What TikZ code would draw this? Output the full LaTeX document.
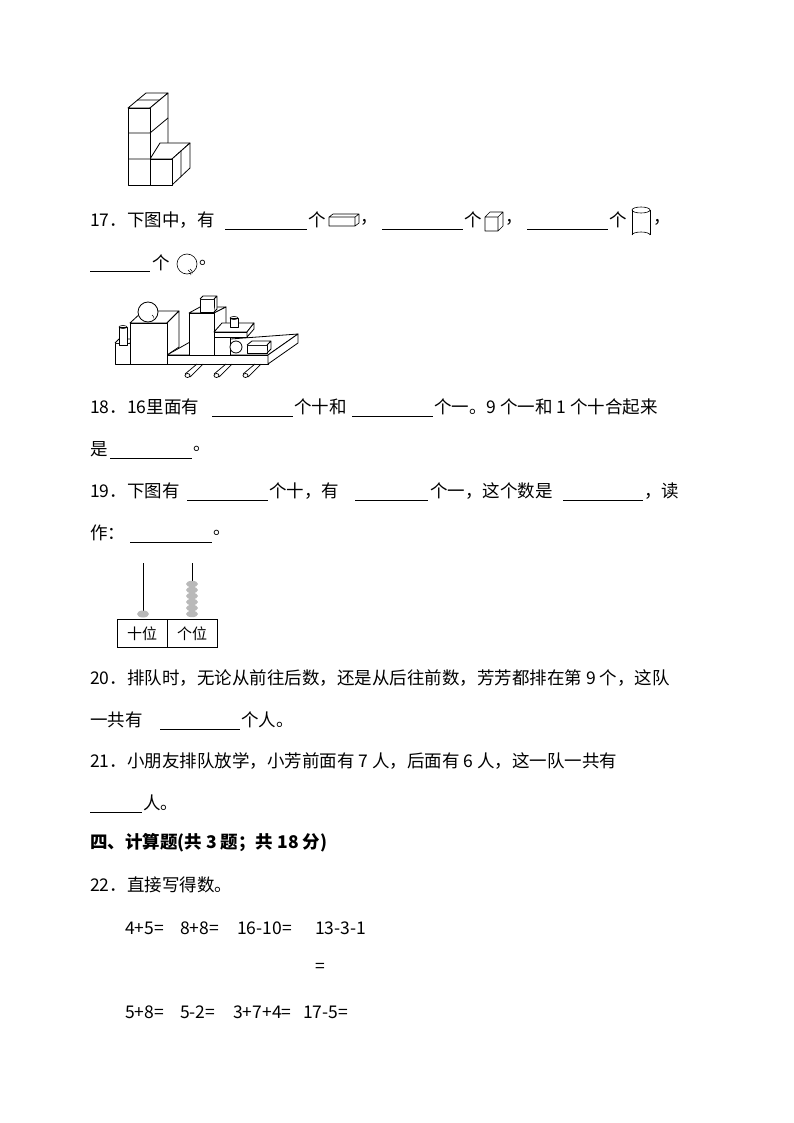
\documentclass[tikz,border=0pt]{standalone}
\usepackage{fontspec}
\setmainfont{Noto Sans CJK SC}
\begin{document}
\begin{tikzpicture}[x=1pt,y=-1pt,
  t/.style={anchor=west,inner sep=0pt,font=\fontsize{17.5}{17.5}\selectfont},
  bl/.style={line width=0.6pt},
  fig/.style={line width=0.8pt,line join=round,fill=white}]
\useasboundingbox (0,0) rectangle (794,1123);
% cube figure
\draw[fig] (128,108)--(146,93)--(168,93)--(150,108)--cycle;
\draw[fig] (150,108)--(168,93)--(168,143)--(150,159)--cycle;
\draw[fig] (150,159)--(160,143)--(190,143)--(172,159)--cycle;
\draw[fig] (172,159)--(190,143)--(190,168)--(172,185)--cycle;
\draw[fig] (128,108) rectangle (150,185);
\draw[fig] (150,159) rectangle (172,185);
\draw[line width=0.8pt] (128,133)--(150,133) (128,159)--(150,159) (150,133)--(168,118) (137,100)--(159,100) (181,151)--(181,176);
% line 17
\node[t] (q17) at (90,220) {17．下图中，有};
\draw[bl] (225,229)--(307,229) (382,229)--(463,229) (527,229)--(608,229);
\node[t] (g1) at (308,220) {个};
\draw[fig,line width=0.6pt] (329,217) rectangle (355,226) (329,217)--(333,214)--(359,214)--(355,217) (355,226)--(359,223)--(359,214);
\node[t] (c1) at (360,222) {，};
\node[t] (g2) at (464,220) {个};
\draw[fig,line width=0.6pt] (485,217) rectangle (498,231) (485,217)--(490,212)--(503,212)--(498,217) (498,231)--(503,226)--(503,212);
\node[t] (c2) at (505,222) {，};
\node[t] (g3) at (609,220) {个};
\draw[line width=0.6pt] (632,210)--(632,235) (650,210)--(650,235);
\draw[line width=0.6pt] (641,210) ellipse (9 and 3);
\draw[line width=0.6pt] (632,235) arc (180:360:9 and 3);
\node[t] (c3) at (653,222) {，};
% line 2
\draw[bl] (90,271)--(150,271);
\node[t] (g4) at (152,263) {个};
\draw[line width=0.6pt] (187,264) circle (10);
\draw[line width=0.4pt] (190,269) arc (-60:0:5) (188,270) arc (-60:0:6);
\node[t] (p1) at (199,263) {。};
% objects figure
\draw[fig] (190,342)--(298,334)--(268,355)--(167,355)--cycle;
\draw[fig] (167,355) rectangle (268,364);
\draw[fig] (268,355)--(298,334)--(298,343)--(268,364)--cycle;
\foreach \lx in {185,214,243}{
  \draw[line width=0.7pt] (\lx+12,364)--(\lx,374) (\lx+18,364)--(\lx+5,377);
  \draw[line width=0.7pt] (\lx+2.5,375.5) ellipse (2.5 and 2);
}
\draw[fig] (115,343) rectangle (130,364);
\draw[fig] (115,343)--(119,339)--(134,339)--(130,343);
\draw[fig] (119,327) rectangle (127,345);
\draw[line width=0.6pt] (123,327) ellipse (4 and 1.5);
\draw[fig] (130,323)--(143,311)--(179,311)--(167,323)--cycle;
\draw[fig] (167,323)--(179,311)--(179,347)--(167,355)--cycle;
\draw[fig] (130,323) rectangle (167,364);
\draw[fig] (148,312) circle (10);
\draw[line width=0.4pt] (152,315) arc (-60:0:4);
\draw[fig] (189,313)--(200,307)--(226,307)--(214,313)--cycle;
\draw[fig] (214,313)--(226,307)--(226,330)--(214,335)--cycle;
\draw[fig] (189,313) rectangle (214,355);
\draw[fig] (200,299) rectangle (214,312);
\draw[fig] (200,299)--(203,296)--(217,296)--(214,299) (214,312)--(217,309)--(217,296);
\draw[fig] (214,332)--(222,323)--(254,323)--(247,332)--cycle;
\draw[fig] (214,332) rectangle (247,337);
\draw[fig] (247,332)--(254,323)--(254,329)--(247,337)--cycle;
\draw[fig] (214,337) rectangle (230,355);
\draw[fig] (230,318) rectangle (238,327);
\draw[line width=0.6pt] (234,318) ellipse (4 and 1.5);
\draw[fig] (236,347) circle (6);
\draw[fig] (247,345) rectangle (267,353);
\draw[fig] (247,345)--(252,341)--(271,341)--(267,345) (267,353)--(271,349)--(271,341);
% line 18
\node[t] (q18) at (90,407) {18．16里面有};
\draw[bl] (212,416)--(293,416) (352,416)--(433,416);
\node[t] (a18) at (294,407) {个十和};
\node[t] (b18) at (434,407) {个一。9 个一和 1 个十合起来};
\node[t] (s18) at (90,449) {是};
\draw[bl] (110,458)--(192,458);
\node[t] (e18) at (193,449) {。};
% line 19
\node[t] (q19) at (90,491) {19．下图有};
\draw[bl] (187,500)--(268,500) (355,500)--(428,500) (563,500)--(643,500);
\node[t] (a19) at (269,491) {个十，有};
\node[t] (b19) at (430,491) {个一，这个数是};
\node[t] (c19) at (644,491) {，读};
\node[t] (s19) at (90,533) {作：};
\draw[bl] (130,542)--(212,542);
\node[t] (e19) at (213,533) {。};
% abacus
\draw[line width=0.8pt] (143,563)--(143,612) (192,563)--(192,612);
\fill[gray!55] (143,614) ellipse (6 and 3.5);
\foreach \by in {584,590,596,602,608,614}{\fill[gray!55] (192,\by) ellipse (6 and 3.2);}
\draw[line width=0.8pt] (117,619) rectangle (217,647) (167,619)--(167,647);
\node[font=\fontsize{15}{15}\selectfont,inner sep=0pt] (sw) at (142,634) {十位};
\node[font=\fontsize{15}{15}\selectfont,inner sep=0pt] (gw) at (192,634) {个位};
% 20
\node[t] (q20) at (90,678) {20．排队时，无论从前往后数，还是从后往前数，芳芳都排在第 9 个，这队};
\node[t] (s20) at (90,720) {一共有};
\draw[bl] (160,729)--(240,729);
\node[t] (e20) at (241,720) {个人。};
% 21
\node[t] (q21) at (90,761) {21．小朋友排队放学，小芳前面有 7 人，后面有 6 人，这一队一共有};
\draw[bl] (90,812)--(142,812);
\node[t] (e21) at (143,803) {人。};
% section
\node[t,font=\fontsize{17.5}{17.5}\selectfont\bfseries] (sec) at (90,843) {四、计算题(共 3 题；共 18 分)};
\node[t] (q22) at (90,885) {22．直接写得数。};
\node[t] (r1a) at (125,928) {4+5=};
\node[t] (r1b) at (180,928) {8+8=};
\node[t] (r1c) at (237,928) {16-10=};
\node[t] (r1d) at (315,928) {13-3-1};
\node[t] (r1e) at (315,968) {=};
\node[t] (r2a) at (125,1012) {5+8=};
\node[t] (r2b) at (180,1012) {5-2=};
\node[t] (r2c) at (233,1012) {3+7+4=};
\node[t] (r2d) at (303,1012) {17-5=};
\end{tikzpicture}
\end{document}
